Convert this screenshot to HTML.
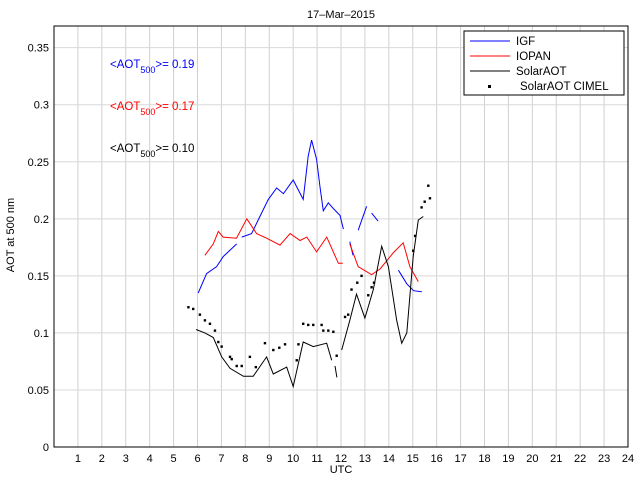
<!DOCTYPE html>
<html><head><meta charset="utf-8"><style>
body{margin:0;background:#fff;font-family:"Liberation Sans",sans-serif;}
svg text{font-family:"Liberation Sans",sans-serif;}
</style></head><body>
<svg id="chart" width="640" height="480" viewBox="0 0 640 480" xmlns="http://www.w3.org/2000/svg">
<rect width="640" height="480" fill="#fff"/>
<g id="grid"></g>
<g id="series"></g>
<g id="axes"></g>
<text x="341" y="18" font-size="11" text-anchor="middle">17–Mar–2015</text>
<text x="341" y="473" font-size="11" text-anchor="middle">UTC</text>
<text transform="translate(14,235) rotate(-90)" font-size="11" text-anchor="middle">AOT at 500 nm</text>
<text x="110" y="68" font-size="11.5" fill="#0000ff">&lt;AOT<tspan font-size="9" dy="5">500</tspan><tspan dy="-5">&gt;= 0.19</tspan></text>
<text x="110" y="110" font-size="11.5" fill="#ff0000">&lt;AOT<tspan font-size="9" dy="5">500</tspan><tspan dy="-5">&gt;= 0.17</tspan></text>
<text x="110" y="152" font-size="11.5" fill="#000">&lt;AOT<tspan font-size="9" dy="5">500</tspan><tspan dy="-5">&gt;= 0.10</tspan></text>
<g>
<rect x="464" y="31" width="160" height="64" fill="#fff" stroke="#000" stroke-width="1"/>
<line x1="470" y1="41" x2="510" y2="41" stroke="#0000ff"/><text x="516" y="45" font-size="11.5">IGF</text>
<line x1="470" y1="56" x2="510" y2="56" stroke="#ff0000"/><text x="516" y="60" font-size="11.5">IOPAN</text>
<line x1="470" y1="71" x2="510" y2="71" stroke="#000"/><text x="516" y="75" font-size="11.5">SolarAOT</text>
<rect x="488" y="85" width="3" height="3" fill="#000"/><text x="520" y="90" font-size="11.5">SolarAOT CIMEL</text>
</g>
</svg>
<script>
const xTicks=[1,2,3,4,5,6,7,8,9,10,11,12,13,14,15,16,17,18,19,20,21,22,23,24];
const yTicks=[0,0.05,0.1,0.15,0.2,0.25,0.3,0.35];
const yTickLabels=["0","0.05","0.1","0.15","0.2","0.25","0.3","0.35"];
const igfHours=[[6.03,6.38,6.80,7.08,7.64],[7.85,8.26,8.61,8.96,9.31,9.59,10.0,10.42,10.63,10.77,10.98,11.12,11.26,11.47,11.68,11.96,12.1],[12.37,12.5],[12.72,13.07],[13.28,13.55],[14.4,14.75,15.03,15.38]];
const igfValues=[[0.135,0.152,0.158,0.167,0.178],[0.184,0.187,0.202,0.217,0.227,0.222,0.234,0.217,0.255,0.269,0.252,0.228,0.207,0.214,0.209,0.203,0.191],[0.18,0.168],[0.19,0.211],[0.205,0.198],[0.155,0.143,0.137,0.136]];
const iopanHours=[[6.31,6.66,6.87,7.07,7.63,8.06,8.47,8.89,9.45,9.87,10.29,10.57,10.98,11.4,11.89,12.07],[12.37,12.72,13.28,13.63,14.18,14.6,14.88,15.23]];
const iopanValues=[[0.168,0.178,0.189,0.184,0.183,0.200,0.187,0.183,0.177,0.187,0.181,0.184,0.171,0.184,0.161,0.161],[0.178,0.158,0.151,0.156,0.170,0.179,0.158,0.145]];
const solarHours=[[5.94,6.31,6.66,7.01,7.36,7.92,8.33,8.89,9.17,9.73,10.0,10.42,10.84,11.4,11.61],[11.75,11.83],[12.03,12.37,12.65,13.0,13.35,13.70,13.98,14.33,14.54,14.75,15.02,15.23,15.44]];
const solarValues=[[0.103,0.100,0.096,0.079,0.069,0.062,0.062,0.079,0.064,0.070,0.053,0.092,0.088,0.091,0.076],[0.071,0.061],[0.085,0.111,0.134,0.113,0.138,0.176,0.158,0.111,0.091,0.100,0.167,0.199,0.202]];
const cimelHours=[5.62,5.82,6.1,6.31,6.52,6.73,6.87,7.01,7.36,7.43,7.64,7.85,8.19,8.44,8.82,9.17,9.42,9.66,10.15,10.22,10.42,10.63,10.84,11.19,11.26,11.47,11.68,11.82,12.17,12.3,12.44,12.68,12.86,13.14,13.28,13.38,15.02,15.1,15.37,15.5,15.65,15.72];
const cimelValues=[0.1225,0.121,0.116,0.111,0.108,0.102,0.092,0.088,0.079,0.077,0.071,0.071,0.079,0.070,0.091,0.085,0.087,0.090,0.076,0.090,0.108,0.107,0.107,0.107,0.102,0.102,0.101,0.080,0.114,0.116,0.138,0.144,0.150,0.133,0.140,0.144,0.172,0.185,0.210,0.215,0.229,0.218];

const L=54,R=628,T=26,B=447,XMAX=24,YMAX=0.369;
const sx=h=>L+h/XMAX*(R-L);
const sy=v=>B-v/YMAX*(B-T);
const NS="http://www.w3.org/2000/svg";
function mk(tag,attrs,parent){const e=document.createElementNS(NS,tag);for(const k in attrs)e.setAttribute(k,attrs[k]);parent.appendChild(e);return e;}
const grid=document.getElementById('grid'),axes=document.getElementById('axes'),ser=document.getElementById('series');
xTicks.forEach(t=>{
  const g=mk('line',{x1:sx(t),x2:sx(t),y1:T,y2:B,stroke:'#d0d0d0','stroke-width':1},grid);
  
  
  const lb=mk('text',{x:sx(t),y:B+15,'font-size':11,'text-anchor':'middle'},axes);
  lb.textContent=t;
  
  
});
yTicks.forEach((t,i)=>{
  const g=mk('line',{x1:L,x2:R,y1:sy(t),y2:sy(t),stroke:'#d8d8d8','stroke-width':1},grid);
  
  
  const lb=mk('text',{x:L-5,y:sy(t)+4,'font-size':11,'text-anchor':'end'},axes);
  lb.textContent=yTickLabels[i];
  
  
});
const frame=mk('rect',{x:L,y:T,width:R-L,height:B-T,fill:'none',stroke:'#000','stroke-width':1},axes);


function lines(hs,vs,color,name){
  hs.forEach((seg,i)=>{
    const d=seg.map((h,j)=>(j?'L':'M')+sx(h).toFixed(1)+' '+sy(vs[i][j]).toFixed(1)).join(' ');
    const p=mk('path',{d:d,fill:'none',stroke:color,'stroke-width':1},ser);
    
    
  });
}
lines(igfHours,igfValues,'#0000ff','igf-line');
lines(iopanHours,iopanValues,'#ff0000','iopan-line');
lines(solarHours,solarValues,'#000','solaraot-line');
cimelHours.forEach((h,i)=>{
  const r=mk('rect',{x:sx(h)-1.2,y:sy(cimelValues[i])-1.2,width:2.4,height:2.4,fill:'#000'},ser);
  
  
});
</script>
</body></html>
